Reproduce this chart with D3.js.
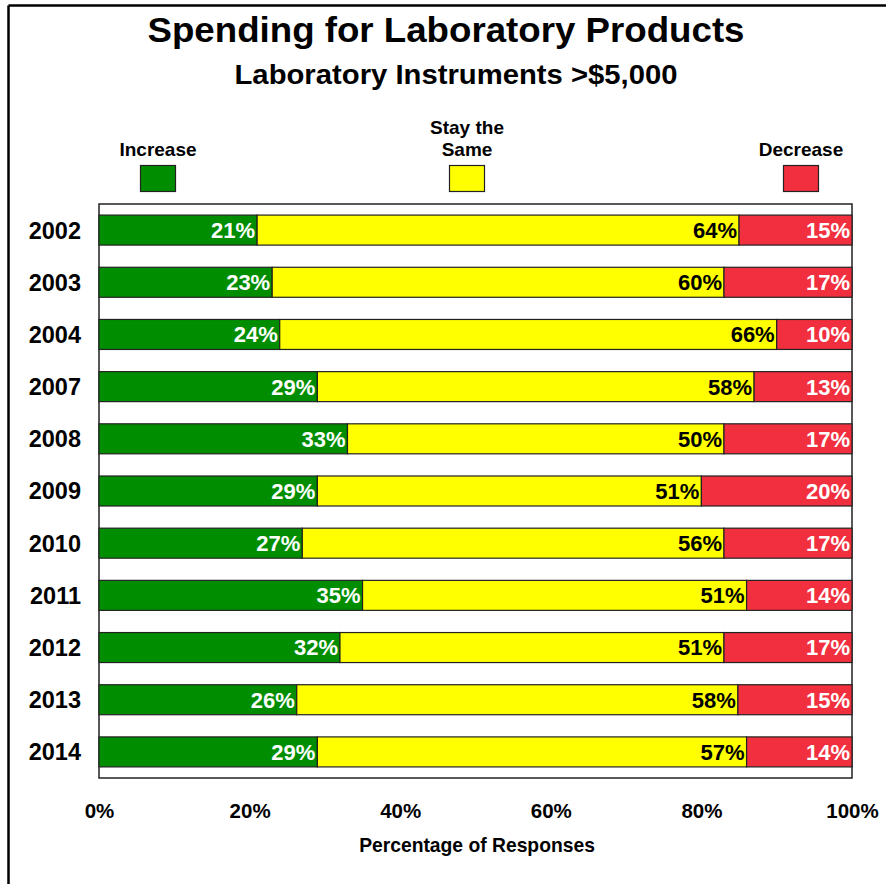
<!DOCTYPE html>
<html>
<head>
<meta charset="utf-8">
<script src="https://cdn.jsdelivr.net/npm/d3@7"></script>
<style>
  html, body { margin: 0; padding: 0; background: #fff; }
  svg { display: block; font-family: "Liberation Sans", Arial, sans-serif; font-weight: bold; }
</style>
</head>
<body>
<svg id="chart" width="886" height="884"></svg>
<script>
// Survey years and the share of responses for each spending outlook (%)
const years = ["2002", "2003", "2004", "2007", "2008", "2009", "2010", "2011", "2012", "2013", "2014"];
const increase = [21, 23, 24, 29, 33, 29, 27, 35, 32, 26, 29];
const staySame = [64, 60, 66, 58, 50, 51, 56, 51, 51, 58, 57];
const decrease = [15, 17, 10, 13, 17, 20, 17, 14, 17, 15, 14];
const seriesNames = ["Increase", "Stay the Same", "Decrease"];
const tickValues = [0, 0.2, 0.4, 0.6, 0.8, 1.0];

const colors = ["#008E00", "#FFFF00", "#F22F3E"];
const labelColors = ["#fff", "#000", "#fff"];

const rows = years.map((y, i) => ({
  year: y,
  "Increase": increase[i],
  "Stay the Same": staySame[i],
  "Decrease": decrease[i]
}));

// Each row is drawn as a share of its total so every bar spans the full width
const stacked = d3.stack().keys(seriesNames).offset(d3.stackOffsetExpand)(rows);

const svg = d3.select("#chart");

// Outer frame (left and top edges visible)
svg.append("line").attr("x1", 8.5).attr("x2", 886).attr("y1", 5.5).attr("y2", 5.5)
  .attr("stroke", "#000").attr("stroke-width", 2.5);
svg.append("line").attr("x1", 8.5).attr("x2", 8.5).attr("y1", 5.5).attr("y2", 884)
  .attr("stroke", "#000").attr("stroke-width", 2.5);

const plot = { left: 99, right: 852, top: 204, bottom: 778 };

const x = d3.scaleLinear().domain([0, 1]).range([plot.left, plot.right]);
const y = d3.scaleBand().domain(years).range([plot.top, plot.bottom]).paddingInner(0.425).paddingOuter(0.2125);

// Titles
svg.append("text").attr("x", 446).attr("y", 42).attr("text-anchor", "middle")
  .attr("font-size", 35).attr("textLength", 597).attr("lengthAdjust", "spacingAndGlyphs")
  .text("Spending for Laboratory Products");
svg.append("text").attr("x", 456).attr("y", 84).attr("text-anchor", "middle")
  .attr("font-size", 27).attr("textLength", 443).attr("lengthAdjust", "spacingAndGlyphs")
  .text("Laboratory Instruments >$5,000");

// Legend
const legendPos = [158, 467, 801];
const legendLines = [["Increase"], ["Stay the", "Same"], ["Decrease"]];
seriesNames.forEach((name, i) => {
  const g = svg.append("g");
  const lines = legendLines[i];
  lines.forEach((ln, j) => {
    g.append("text").attr("x", legendPos[i]).attr("y", 156 - (lines.length - 1 - j) * 22)
      .attr("text-anchor", "middle").attr("font-size", 19).text(ln);
  });
  g.append("rect").attr("x", legendPos[i] - 17.5).attr("y", 165.5).attr("width", 35).attr("height", 26)
    .attr("fill", colors[i]).attr("stroke", "#222").attr("stroke-width", 1.2);
});

// Plot background frame
svg.append("rect").attr("x", plot.left).attr("y", plot.top)
  .attr("width", plot.right - plot.left).attr("height", plot.bottom - plot.top)
  .attr("fill", "#fff").attr("stroke", "#222").attr("stroke-width", 1.5);

// Bars
const layers = svg.append("g").selectAll("g").data(stacked).join("g")
  .attr("fill", (d, i) => colors[i]);
layers.selectAll("rect").data(d => d).join("rect")
  .attr("x", d => x(d[0]))
  .attr("y", d => y(d.data.year))
  .attr("width", d => x(d[1]) - x(d[0]))
  .attr("height", y.bandwidth())
  .attr("stroke", "#222").attr("stroke-width", 1.2);

// Value labels, right-aligned inside each segment
stacked.forEach((layer, i) => {
  svg.append("g").selectAll("text").data(layer).join("text")
    .attr("x", d => x(d[1]) - 2)
    .attr("y", d => y(d.data.year) + y.bandwidth() / 2)
    .attr("dy", "0.36em")
    .attr("text-anchor", "end")
    .attr("font-size", 22)
    .attr("fill", labelColors[i])
    .text(d => d.data[layer.key] + "%");
});

// Y axis (year labels)
const yAxis = svg.append("g").attr("transform", `translate(${plot.left},0)`)
  .call(d3.axisLeft(y).tickSize(0).tickPadding(18));
yAxis.select(".domain").remove();
yAxis.selectAll("text").attr("font-size", 23.5).attr("fill", "#000")
  .attr("font-family", "Liberation Sans, Arial, sans-serif").attr("font-weight", "bold").attr("dy", "0.36em");

// X axis (percent ticks)
const xAxis = svg.append("g").attr("transform", `translate(0,${plot.bottom})`)
  .call(d3.axisBottom(x).tickValues(tickValues).tickFormat(d3.format(".0%")).tickSize(0).tickPadding(25));
xAxis.select(".domain").remove();
xAxis.selectAll("text").attr("font-size", 20.5).attr("fill", "#000")
  .attr("font-family", "Liberation Sans, Arial, sans-serif").attr("font-weight", "bold");

svg.append("text").attr("x", 477).attr("y", 852).attr("text-anchor", "middle")
  .attr("font-size", 19.3).text("Percentage of Responses");
</script>
</body>
</html>
